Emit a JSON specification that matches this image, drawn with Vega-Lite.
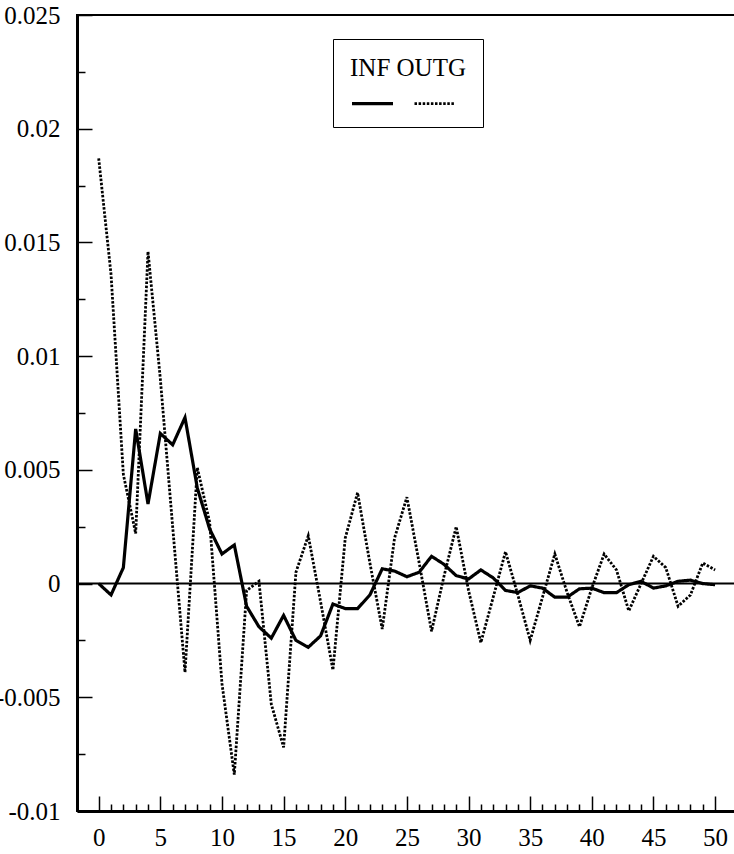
{
  "$schema": "https://vega.github.io/schema/vega-lite/v6.json",
  "width": 680,
  "height": 796,
  "autosize": {"type": "none"},
  "padding": {"left": 77, "top": 15, "right": 0, "bottom": 43},
  "background": "white",
  "config": {"view": {"stroke": "black", "strokeWidth": 2}, "font": "Liberation Serif"},
  "datasets": {
    "series": [
      {"t":0,"s":"INF","v":0},{"t":1,"s":"INF","v":-0.0005},{"t":2,"s":"INF","v":0.0007},{"t":3,"s":"INF","v":0.0068},{"t":4,"s":"INF","v":0.0035},{"t":5,"s":"INF","v":0.0066},{"t":6,"s":"INF","v":0.0061},{"t":7,"s":"INF","v":0.0073},{"t":8,"s":"INF","v":0.0042},{"t":9,"s":"INF","v":0.0024},{"t":10,"s":"INF","v":0.0013},{"t":11,"s":"INF","v":0.0017},{"t":12,"s":"INF","v":-0.001},{"t":13,"s":"INF","v":-0.0019},{"t":14,"s":"INF","v":-0.0024},{"t":15,"s":"INF","v":-0.0014},{"t":16,"s":"INF","v":-0.0025},{"t":17,"s":"INF","v":-0.0028},{"t":18,"s":"INF","v":-0.0023},{"t":19,"s":"INF","v":-0.0009},{"t":20,"s":"INF","v":-0.0011},{"t":21,"s":"INF","v":-0.0011},{"t":22,"s":"INF","v":-0.0005},{"t":23,"s":"INF","v":0.00065},{"t":24,"s":"INF","v":0.00055},{"t":25,"s":"INF","v":0.0003},{"t":26,"s":"INF","v":0.0005},{"t":27,"s":"INF","v":0.0012},{"t":28,"s":"INF","v":0.00085},{"t":29,"s":"INF","v":0.00035},{"t":30,"s":"INF","v":0.0002},{"t":31,"s":"INF","v":0.0006},{"t":32,"s":"INF","v":0.00025},{"t":33,"s":"INF","v":-0.0003},{"t":34,"s":"INF","v":-0.0004},{"t":35,"s":"INF","v":-0.0001},{"t":36,"s":"INF","v":-0.0002},{"t":37,"s":"INF","v":-0.0006},{"t":38,"s":"INF","v":-0.0006},{"t":39,"s":"INF","v":-0.00023},{"t":40,"s":"INF","v":-0.0002},{"t":41,"s":"INF","v":-0.0004},{"t":42,"s":"INF","v":-0.0004},{"t":43,"s":"INF","v":-0.00005},{"t":44,"s":"INF","v":0.0001},{"t":45,"s":"INF","v":-0.0002},{"t":46,"s":"INF","v":-0.0001},{"t":47,"s":"INF","v":0.0001},{"t":48,"s":"INF","v":0.00015},{"t":49,"s":"INF","v":0},{"t":50,"s":"INF","v":-0.00005},
      {"t":0,"s":"OUTG","v":0.0187},{"t":1,"s":"OUTG","v":0.0136},{"t":2,"s":"OUTG","v":0.0048},{"t":3,"s":"OUTG","v":0.0022},{"t":4,"s":"OUTG","v":0.0146},{"t":5,"s":"OUTG","v":0.009},{"t":6,"s":"OUTG","v":0.0025},{"t":7,"s":"OUTG","v":-0.0039},{"t":8,"s":"OUTG","v":0.0051},{"t":9,"s":"OUTG","v":0.0027},{"t":10,"s":"OUTG","v":-0.0044},{"t":11,"s":"OUTG","v":-0.0084},{"t":12,"s":"OUTG","v":-0.0003},{"t":13,"s":"OUTG","v":0.0001},{"t":14,"s":"OUTG","v":-0.0053},{"t":15,"s":"OUTG","v":-0.0072},{"t":16,"s":"OUTG","v":0.0005},{"t":17,"s":"OUTG","v":0.0021},{"t":18,"s":"OUTG","v":-0.0008},{"t":19,"s":"OUTG","v":-0.0038},{"t":20,"s":"OUTG","v":0.002},{"t":21,"s":"OUTG","v":0.004},{"t":22,"s":"OUTG","v":0.0009},{"t":23,"s":"OUTG","v":-0.002},{"t":24,"s":"OUTG","v":0.002},{"t":25,"s":"OUTG","v":0.0038},{"t":26,"s":"OUTG","v":0.0009},{"t":27,"s":"OUTG","v":-0.0021},{"t":28,"s":"OUTG","v":0.0003},{"t":29,"s":"OUTG","v":0.0025},{"t":30,"s":"OUTG","v":-0.0003},{"t":31,"s":"OUTG","v":-0.0026},{"t":32,"s":"OUTG","v":-0.0006},{"t":33,"s":"OUTG","v":0.0014},{"t":34,"s":"OUTG","v":-0.0005},{"t":35,"s":"OUTG","v":-0.0025},{"t":36,"s":"OUTG","v":-0.0006},{"t":37,"s":"OUTG","v":0.0013},{"t":38,"s":"OUTG","v":-0.0004},{"t":39,"s":"OUTG","v":-0.0019},{"t":40,"s":"OUTG","v":-0.0002},{"t":41,"s":"OUTG","v":0.0013},{"t":42,"s":"OUTG","v":0.0006},{"t":43,"s":"OUTG","v":-0.0012},{"t":44,"s":"OUTG","v":0},{"t":45,"s":"OUTG","v":0.0012},{"t":46,"s":"OUTG","v":0.0007},{"t":47,"s":"OUTG","v":-0.001},{"t":48,"s":"OUTG","v":-0.0005},{"t":49,"s":"OUTG","v":0.0009},{"t":50,"s":"OUTG","v":0.0006}
    ],
    "zero": [{"v": 0}]
  },
  "layer": [
    {
      "data": {"name": "zero"},
      "mark": {"type": "rule", "color": "black", "strokeWidth": 2},
      "encoding": {"y": {"field": "v", "type": "quantitative"}}
    },
    {
      "data": {"name": "series"},
      "mark": {"type": "line", "color": "black", "clip": true},
      "encoding": {
        "x": {
          "field": "t", "type": "quantitative",
          "scale": {"domain": [-1.76, 53.4], "nice": false, "zero": false},
          "axis": {
            "title": null, "grid": false, "orient": "bottom",
            "values": [0,1,2,3,4,5,6,7,8,9,10,11,12,13,14,15,16,17,18,19,20,21,22,23,24,25,26,27,28,29,30,31,32,33,34,35,36,37,38,39,40,41,42,43,44,45,46,47,48,49,50],
            "labelExpr": "datum.value % 5 === 0 ? datum.label : ''",
            "tickSize": {"condition": {"test": "datum.value % 5 === 0", "value": -15}, "value": -7},
            "tickColor": "black", "tickWidth": 1.5,
            "domainColor": "black", "domainWidth": 3,
            "labelFont": "Liberation Serif", "labelFontSize": 25, "labelColor": "black",
            "labelPadding": 29, "labelFlush": false, "labelOverlap": false, "labelBound": false
          }
        },
        "y": {
          "field": "v", "type": "quantitative",
          "scale": {"domain": [-0.01, 0.025], "nice": false, "zero": false},
          "axis": {
            "title": null, "grid": false, "orient": "left",
            "values": [-0.01,-0.0075,-0.005,-0.0025,0,0.0025,0.005,0.0075,0.01,0.0125,0.015,0.0175,0.02,0.0225,0.025],
            "labelExpr": "abs(datum.value*200 - round(datum.value*200)) < 0.000001 ? '' + datum.value : ''",
            "tickSize": {"condition": {"test": "abs(datum.value*200 - round(datum.value*200)) < 0.000001", "value": -15}, "value": -8},
            "tickColor": "black", "tickWidth": 1.5,
            "domainColor": "black", "domainWidth": 3,
            "labelFont": "Liberation Serif", "labelFontSize": 25, "labelColor": "black",
            "labelPadding": 32, "labelFlush": false, "labelOverlap": false, "labelBound": false
          }
        },
        "strokeDash": {
          "field": "s", "type": "nominal",
          "scale": {"domain": ["INF", "OUTG"], "range": [[1, 0], [2.5, 1.6]]},
          "legend": {
            "orient": "none", "legendX": 256, "legendY": 24, "direction": "horizontal",
            "title": "INF OUTG", "titleFont": "Liberation Serif", "titleFontSize": 25,
            "titleFontWeight": "normal", "titleColor": "black", "titlePadding": 0,
            "labelExpr": "''", "labelOffset": 0, "labelFontSize": 1,
            "symbolType": "stroke", "symbolSize": 1681, "symbolStrokeWidth": 1.5,
            "symbolStrokeColor": "black", "columnPadding": 8, "padding": 17,
            "strokeColor": "black"
          }
        },
        "strokeWidth": {
          "field": "s", "type": "nominal",
          "scale": {"domain": ["INF", "OUTG"], "range": [3.2, 2.8]},
          "legend": null
        }
      }
    }
  ]
}
